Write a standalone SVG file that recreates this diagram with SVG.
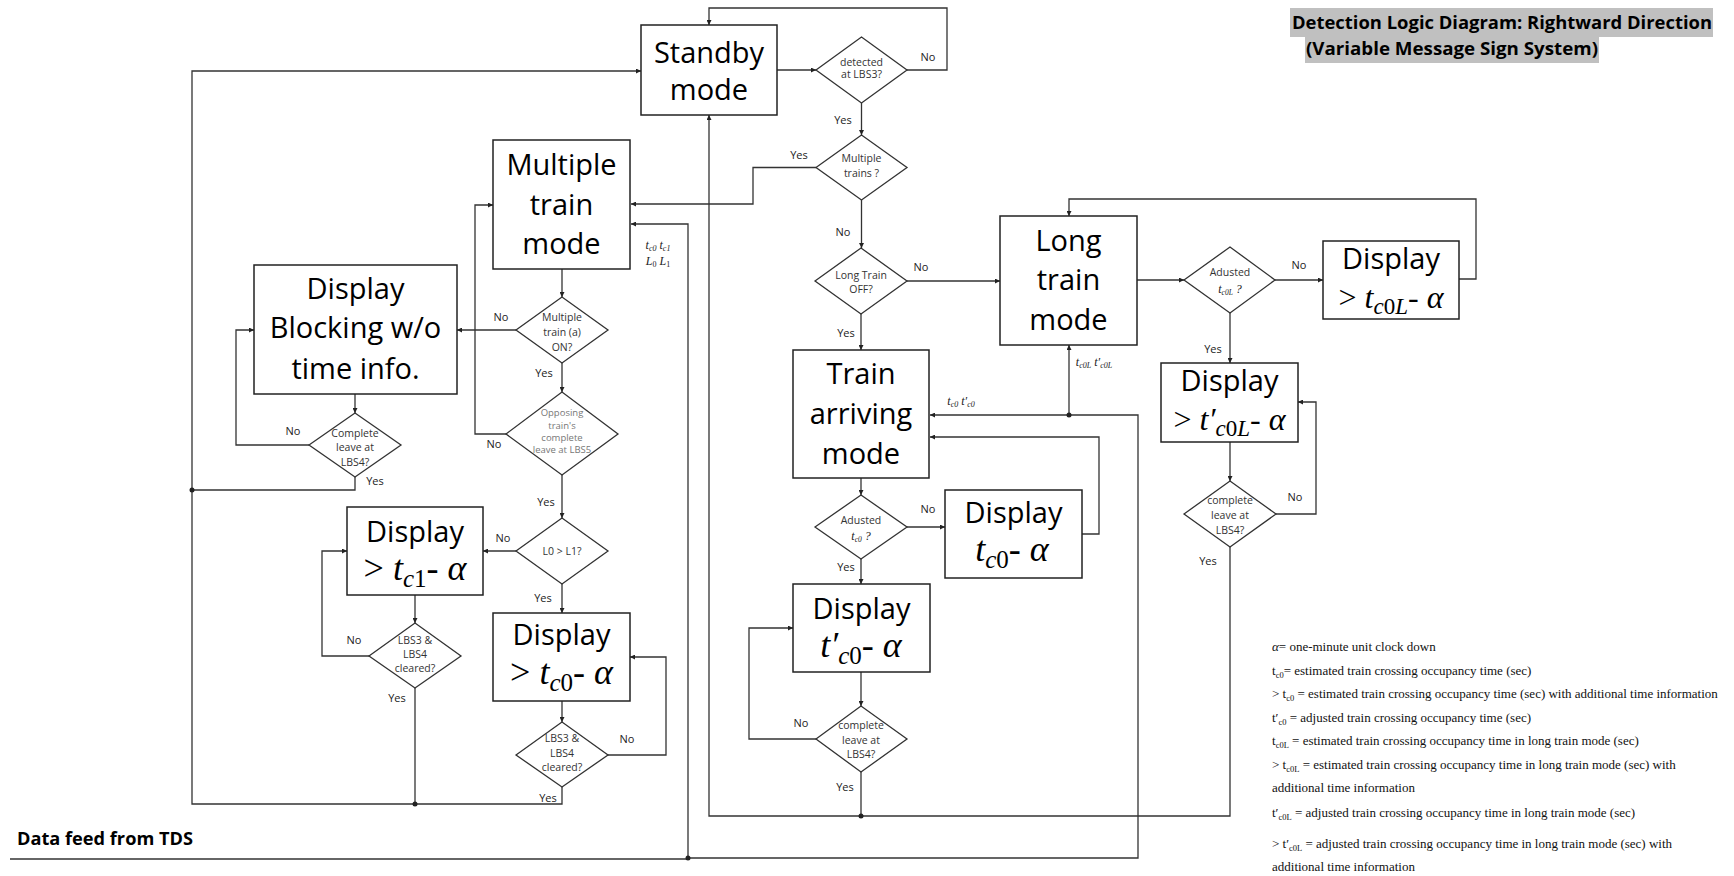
<svg xmlns="http://www.w3.org/2000/svg" width="1734" height="876" viewBox="0 0 1734 876">
<style>
.box{fill:#fff;stroke:#222;stroke-width:1.5}
.dia{fill:#fff;stroke:#333;stroke-width:1.3}
.ln{fill:none;stroke:#333;stroke-width:1.3}
.big{font-family:"Open Sans","Liberation Sans",sans-serif;font-size:29px;fill:#000;text-anchor:middle}
.math{font-family:"Liberation Serif",serif;font-size:36px;fill:#000;text-anchor:middle}
.mathS{font-family:"Liberation Serif",serif;font-size:32px;fill:#000;text-anchor:middle}
.it{font-style:italic}
.dt{font-family:"Open Sans","Liberation Sans",sans-serif;font-size:10.5px;fill:#333;text-anchor:middle}
.op{font-family:"Open Sans","Liberation Sans",sans-serif;font-size:9.5px;fill:#777;text-anchor:middle}
.lbl{font-family:"Open Sans","Liberation Sans",sans-serif;font-size:11px;fill:#222;text-anchor:middle}
.sm{font-family:"Liberation Serif",serif;font-size:12px;font-style:italic;fill:#222;text-anchor:middle}
.leg{font-family:"Liberation Serif",serif;font-size:13px;fill:#111}
.ttl{font-family:"Open Sans","Liberation Sans",sans-serif;font-size:17px;font-weight:700;fill:#000}
.dot{fill:#222}
</style>
<defs>
<marker id="ah" viewBox="0 0 10 10" refX="10" refY="5" markerWidth="6" markerHeight="5" markerUnits="userSpaceOnUse" orient="auto"><path d="M0,0 L10,5 L0,10 z" fill="#222"/></marker>
</defs>

<g id="title">
<rect x="1290" y="8" width="423" height="29" fill="#c0c0c0"/>
<rect x="1305" y="37" width="294" height="26" fill="#c0c0c0"/>
<text class="ttl" x="1292" y="29" textLength="420" lengthAdjust="spacingAndGlyphs">Detection Logic Diagram: Rightward Direction</text>
<text class="ttl" x="1306" y="55" textLength="292" lengthAdjust="spacingAndGlyphs">(Variable Message Sign System)</text>
</g>

<g id="tds-label">
<text class="ttl" x="17" y="845" textLength="176" lengthAdjust="spacingAndGlyphs">Data feed from TDS</text>
</g>

<g id="connectors">
<path class="ln" d="M10,859 H688" stroke="#555" stroke-width="1.6"/>
<path class="ln" d="M777,70 H816" marker-end="url(#ah)"/>
<path class="ln" d="M907,70 H947 V8 H709 V25" marker-end="url(#ah)"/>
<path class="ln" d="M861.5,103 V135" marker-end="url(#ah)"/>
<path class="ln" d="M816,167.5 H753 V204 H631" marker-end="url(#ah)"/>
<path class="ln" d="M861.5,200 V248" marker-end="url(#ah)"/>
<path class="ln" d="M907,281 H1000" marker-end="url(#ah)"/>
<path class="ln" d="M861,314 V350" marker-end="url(#ah)"/>
<path class="ln" d="M861,478 V495" marker-end="url(#ah)"/>
<path class="ln" d="M907,527 H945" marker-end="url(#ah)"/>
<path class="ln" d="M1082,534 H1099 V437 H930" marker-end="url(#ah)"/>
<path class="ln" d="M861,558 V584" marker-end="url(#ah)"/>
<path class="ln" d="M861,672 V706" marker-end="url(#ah)"/>
<path class="ln" d="M816,739 H749 V628 H793" marker-end="url(#ah)"/>
<path class="ln" d="M861,772 V816"/>
<path class="ln" d="M1230,547 V816 H709 V115" marker-end="url(#ah)"/>
<path class="ln" d="M1137,280 H1184" marker-end="url(#ah)"/>
<path class="ln" d="M1275,280 H1323" marker-end="url(#ah)"/>
<path class="ln" d="M1459,279 H1476 V199 H1069 V216" marker-end="url(#ah)"/>
<path class="ln" d="M1230,313 V363" marker-end="url(#ah)"/>
<path class="ln" d="M1230,442 V481" marker-end="url(#ah)"/>
<path class="ln" d="M1276,514 H1316 V402 H1298" marker-end="url(#ah)"/>
<path class="ln" d="M688,858 H1138 V415 H930" marker-end="url(#ah)"/>
<path class="ln" d="M1069,415 V345" marker-end="url(#ah)"/>
<path class="ln" d="M688,858 V224 H631" marker-end="url(#ah)"/>
<path class="ln" d="M562,787 V804 H192 V71 H641" marker-end="url(#ah)"/>
<path class="ln" d="M415,688 V804"/>
<path class="ln" d="M562,269 V297" marker-end="url(#ah)"/>
<path class="ln" d="M516,330 H457" marker-end="url(#ah)"/>
<path class="ln" d="M562,363 V392" marker-end="url(#ah)"/>
<path class="ln" d="M506,434 H475 V205 H493" marker-end="url(#ah)"/>
<path class="ln" d="M562,475 V518" marker-end="url(#ah)"/>
<path class="ln" d="M355,394 V413" marker-end="url(#ah)"/>
<path class="ln" d="M309,445 H236 V330 H254" marker-end="url(#ah)"/>
<path class="ln" d="M355,477 V490 H192"/>
<path class="ln" d="M516,551 H483" marker-end="url(#ah)"/>
<path class="ln" d="M562,584 V613" marker-end="url(#ah)"/>
<path class="ln" d="M415,595 V623" marker-end="url(#ah)"/>
<path class="ln" d="M369,656 H322 V551 H347" marker-end="url(#ah)"/>
<path class="ln" d="M562,701 V722" marker-end="url(#ah)"/>
<path class="ln" d="M608,755 H666 V657 H630" marker-end="url(#ah)"/>
<circle class="dot" cx="192" cy="490" r="2.5"/>
<circle class="dot" cx="415" cy="804" r="2.5"/>
<circle class="dot" cx="688" cy="858" r="2.5"/>
<circle class="dot" cx="861" cy="816" r="2.5"/>
<circle class="dot" cx="1069" cy="415" r="2.5"/>
<text class="lbl" x="928" y="61">No</text>
<text class="lbl" x="843" y="124">Yes</text>
<text class="lbl" x="799" y="159">Yes</text>
<text class="lbl" x="843" y="236">No</text>
<text class="lbl" x="921" y="271">No</text>
<text class="lbl" x="846" y="337">Yes</text>
<text class="lbl" x="928" y="513">No</text>
<text class="lbl" x="846" y="571">Yes</text>
<text class="lbl" x="801" y="727">No</text>
<text class="lbl" x="845" y="791">Yes</text>
<text class="lbl" x="501" y="321">No</text>
<text class="lbl" x="544" y="377">Yes</text>
<text class="lbl" x="293" y="435">No</text>
<text class="lbl" x="375" y="485">Yes</text>
<text class="lbl" x="494" y="448">No</text>
<text class="lbl" x="546" y="506">Yes</text>
<text class="lbl" x="503" y="542">No</text>
<text class="lbl" x="543" y="602">Yes</text>
<text class="lbl" x="354" y="644">No</text>
<text class="lbl" x="397" y="702">Yes</text>
<text class="lbl" x="627" y="743">No</text>
<text class="lbl" x="548" y="802">Yes</text>
<text class="lbl" x="1299" y="269">No</text>
<text class="lbl" x="1213" y="353">Yes</text>
<text class="lbl" x="1295" y="501">No</text>
<text class="lbl" x="1208" y="565">Yes</text>
<text class="sm" x="658" y="249">t<tspan font-size="8" baseline-shift="-2">c0</tspan> t<tspan font-size="8" baseline-shift="-2">c1</tspan></text>
<text class="sm" x="658" y="265">L<tspan font-size="8" baseline-shift="-2" font-style="normal">0</tspan> L<tspan font-size="8" baseline-shift="-2" font-style="normal">1</tspan></text>
<text class="sm" x="1094" y="366">t<tspan font-size="8" baseline-shift="-2">c0L</tspan> t′<tspan font-size="8" baseline-shift="-2">c0L</tspan></text>
<text class="sm" x="961" y="405">t<tspan font-size="8" baseline-shift="-2">c0</tspan> t′<tspan font-size="8" baseline-shift="-2">c0</tspan></text>
</g>

<g id="standby">
<rect class="box" x="641" y="25" width="136" height="90"/>
<text class="big" x="709" y="63">Standby</text>
<text class="big" x="709" y="100">mode</text>
</g>
<g id="d-detected">
<polygon class="dia" points="816,70 861.5,37 907,70 861.5,103"/>
<text class="dt" x="861.5" y="66">detected</text>
<text class="dt" x="861.5" y="78">at LBS3?</text>
</g>
<g id="d-multiple-trains">
<polygon class="dia" points="816,167.5 861.5,135 907,167.5 861.5,200"/>
<text class="dt" x="861.5" y="162">Multiple</text>
<text class="dt" x="861.5" y="177">trains ?</text>
</g>
<g id="d-long-off">
<polygon class="dia" points="815,281 861,248 907,281 861,314"/>
<text class="dt" x="861" y="279">Long Train</text>
<text class="dt" x="861" y="293">OFF?</text>
</g>
<g id="long-train">
<rect class="box" x="1000" y="216" width="137" height="129"/>
<text class="big" x="1068.5" y="251">Long</text>
<text class="big" x="1068.5" y="290">train</text>
<text class="big" x="1068.5" y="330">mode</text>
</g>
<g id="train-arriving">
<rect class="box" x="793" y="350" width="136" height="128"/>
<text class="big" x="861" y="384">Train</text>
<text class="big" x="861" y="424">arriving</text>
<text class="big" x="861" y="464">mode</text>
</g>
<g id="d-adjusted-tc0">
<polygon class="dia" points="815,527 861,495 907,527 861,559"/>
<text class="dt" x="861" y="524">Adusted</text>
<text class="sm" x="861" y="540" font-size="11">t<tspan font-size="7.5" baseline-shift="-2">c0</tspan> ?</text>
</g>
<g id="display-tc0">
<rect class="box" x="945" y="490" width="137" height="88"/>
<text class="big" x="1013.5" y="523">Display</text>
<text class="math" x="1012" y="561"><tspan class="it">t</tspan><tspan font-size="25" baseline-shift="-7"><tspan class="it">c</tspan>0</tspan>- <tspan class="it">α</tspan></text>
</g>
<g id="display-tc0-prime">
<rect class="box" x="793" y="584" width="137" height="88"/>
<text class="big" x="861.5" y="619">Display</text>
<text class="math" x="861" y="657"><tspan class="it">t′</tspan><tspan font-size="25" baseline-shift="-7"><tspan class="it">c</tspan>0</tspan>- <tspan class="it">α</tspan></text>
</g>
<g id="d-complete-center">
<polygon class="dia" points="816,739 861,706 907,739 861,772"/>
<text class="dt" x="861" y="729">complete</text>
<text class="dt" x="861" y="744">leave at</text>
<text class="dt" x="861" y="758">LBS4?</text>
</g>
<g id="d-adjusted-tc0L">
<polygon class="dia" points="1184,280 1230,247 1275,280 1230,313"/>
<text class="dt" x="1230" y="276">Adusted</text>
<text class="sm" x="1230" y="293" font-size="11">t<tspan font-size="7.5" baseline-shift="-2">c0L</tspan> ?</text>
</g>
<g id="display-tc0L">
<rect class="box" x="1323" y="241" width="136" height="78"/>
<text class="big" x="1391" y="269">Display</text>
<text class="mathS" x="1391" y="308">&gt; <tspan class="it">t</tspan><tspan font-size="23" baseline-shift="-6"><tspan class="it">c</tspan>0<tspan class="it">L</tspan></tspan>- <tspan class="it">α</tspan></text>
</g>
<g id="display-tc0L-prime">
<rect class="box" x="1161" y="363" width="137" height="79"/>
<text class="big" x="1229.5" y="391">Display</text>
<text class="mathS" x="1229.5" y="430">&gt; <tspan class="it">t′</tspan><tspan font-size="23" baseline-shift="-6"><tspan class="it">c</tspan>0<tspan class="it">L</tspan></tspan>- <tspan class="it">α</tspan></text>
</g>
<g id="d-complete-right">
<polygon class="dia" points="1184,514 1230,481 1276,514 1230,547"/>
<text class="dt" x="1230" y="504">complete</text>
<text class="dt" x="1230" y="519">leave at</text>
<text class="dt" x="1230" y="534">LBS4?</text>
</g>
<g id="multiple-train">
<rect class="box" x="493" y="140" width="137" height="129"/>
<text class="big" x="561.5" y="175">Multiple</text>
<text class="big" x="561.5" y="215">train</text>
<text class="big" x="561.5" y="254">mode</text>
</g>
<g id="d-multiple-a">
<polygon class="dia" points="516,330 562,297 608,330 562,363"/>
<text class="dt" x="562" y="321">Multiple</text>
<text class="dt" x="562" y="336">train (a)</text>
<text class="dt" x="562" y="351">ON?</text>
</g>
<g id="display-blocking">
<rect class="box" x="254" y="265" width="203" height="129"/>
<text class="big" x="355.5" y="299">Display</text>
<text class="big" x="355.5" y="338">Blocking w/o</text>
<text class="big" x="355.5" y="379">time info.</text>
</g>
<g id="d-complete-left">
<polygon class="dia" points="309,445 355,413 401,445 355,477"/>
<text class="dt" x="355" y="437">Complete</text>
<text class="dt" x="355" y="451">leave at</text>
<text class="dt" x="355" y="466">LBS4?</text>
</g>
<g id="d-opposing">
<polygon class="dia" points="506,434 562,392 618,434 562,475"/>
<text class="op" x="562" y="416">Opposing</text>
<text class="op" x="562" y="429">train's</text>
<text class="op" x="562" y="441">complete</text>
<text class="op" x="562" y="453">leave at LBS5</text>
</g>
<g id="d-l0-l1">
<polygon class="dia" points="516,551 562,518 608,551 562,584"/>
<text class="dt" x="562" y="555">L0 &gt; L1?</text>
</g>
<g id="display-tc1">
<rect class="box" x="347" y="507" width="136" height="88"/>
<text class="big" x="415" y="542">Display</text>
<text class="math" x="415" y="580">&gt; <tspan class="it">t</tspan><tspan font-size="25" baseline-shift="-7"><tspan class="it">c</tspan>1</tspan>- <tspan class="it">α</tspan></text>
</g>
<g id="d-cleared-left">
<polygon class="dia" points="369,656 415,623 461,656 415,688"/>
<text class="dt" x="415" y="644">LBS3 &amp;</text>
<text class="dt" x="415" y="658">LBS4</text>
<text class="dt" x="415" y="672">cleared?</text>
</g>
<g id="display-tc0-gt">
<rect class="box" x="493" y="613" width="137" height="88"/>
<text class="big" x="561.5" y="645">Display</text>
<text class="math" x="561.5" y="684">&gt; <tspan class="it">t</tspan><tspan font-size="25" baseline-shift="-7"><tspan class="it">c</tspan>0</tspan>- <tspan class="it">α</tspan></text>
</g>
<g id="d-cleared-right">
<polygon class="dia" points="516,755 562,722 608,755 562,787"/>
<text class="dt" x="562" y="742">LBS3 &amp;</text>
<text class="dt" x="562" y="757">LBS4</text>
<text class="dt" x="562" y="771">cleared?</text>
</g>

<g id="legend">
<text class="leg" x="1272" y="651"><tspan font-style="italic">α</tspan>= one-minute unit clock down</text>
<text class="leg" x="1272" y="675">t<tspan font-size="8.5" baseline-shift="-3">c0</tspan>= estimated train crossing occupancy time (sec)</text>
<text class="leg" x="1272" y="698">&gt; t<tspan font-size="8.5" baseline-shift="-3">c0</tspan> = estimated train crossing occupancy time (sec) with additional time information</text>
<text class="leg" x="1272" y="722">t′<tspan font-size="8.5" baseline-shift="-3">c0</tspan> = adjusted train crossing occupancy time (sec)</text>
<text class="leg" x="1272" y="745">t<tspan font-size="8.5" baseline-shift="-3">c0L</tspan> = estimated train crossing occupancy time in long train mode (sec)</text>
<text class="leg" x="1272" y="769">&gt;  t<tspan font-size="8.5" baseline-shift="-3">c0L</tspan> = estimated train crossing occupancy time in long train mode (sec) with</text>
<text class="leg" x="1272" y="792">additional time information</text>
<text class="leg" x="1272" y="817">t′<tspan font-size="8.5" baseline-shift="-3">c0L</tspan> = adjusted train crossing occupancy time in long train mode (sec)</text>
<text class="leg" x="1272" y="848">&gt;  t′<tspan font-size="8.5" baseline-shift="-3">c0L</tspan> = adjusted train crossing occupancy time in long train mode (sec) with</text>
<text class="leg" x="1272" y="871">additional time information</text>
</g>
</svg>
